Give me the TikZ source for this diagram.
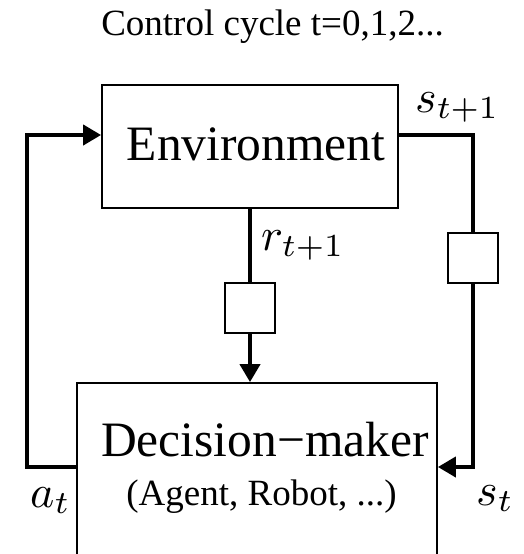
\RequirePackage{fix-cm}
\documentclass[tikz,border=0pt]{standalone}
\usepackage[no-math]{fontspec}
\usepackage{graphicx}
\newfontfamily\tnr{Liberation Serif}
\usetikzlibrary{arrows.meta}
\newcommand{\bigmath}[1]{\scalebox{4.6}{$#1$}}
\tikzset{
  box/.style={draw, line width=1.8pt, rectangle, inner sep=0pt},
  bigtext/.style={inner sep=0pt, font=\tnr\fontsize{49.5}{55}\selectfont},
  midtext/.style={inner sep=0pt, font=\tnr\fontsize{37}{42}\selectfont},
  mathlbl/.style={inner sep=0pt},
  flow/.style={line width=4pt},
  tip/.style={-{Triangle[length=18pt,width=20pt]}}
}
\begin{document}
\begin{tikzpicture}[x=1pt,y=1pt]
\useasboundingbox (0,0) rectangle (524,-554);
\clip (0,0) rectangle (524,-554);
\fill[white] (0,0) rectangle (524,-554);
% title
\node[midtext, anchor=base] (title) at (272.5,-35) {Control cycle t=0,1,2...};
% boxes
\node[box, minimum width=296pt, minimum height=123pt] (env) at (250,-146.5) {};
\node[bigtext, anchor=base] (envtext) at (256,-160) {Environment};
\node[box, minimum width=360pt, minimum height=217pt] (dm) at (257,-491.5) {};
\node[bigtext, anchor=base] (dmtext) at (265,-456) {Decision−maker};
\node[midtext, anchor=base] (dmsub) at (261.5,-505) {(Agent, Robot, ...)};
\node[box, minimum width=50pt, minimum height=50pt] (d1) at (250,-308) {};
\node[box, minimum width=50pt, minimum height=50pt] (d2) at (473,-258) {};
% corner coordinates
\coordinate (er) at (473,-135);
\coordinate (br) at (473,-467);
\coordinate (bl) at (27,-467);
\coordinate (tl) at (27,-135);
% connectors
\draw[flow] (env.south -| d1.north) -- (d1.north);
\draw[flow,tip] (d1.south) -- (d1.south |- dm.north);
\draw[flow] (env.east |- er) -- (er) -- (d2.north);
\draw[flow,tip] (d2.south) -- (br) -- (dm.east |- br);
\draw[flow,tip] (dm.west |- bl) -- (bl) -- (tl) -- (env.west |- tl);
% labels
\node[mathlbl, anchor=base west] (lst1) at (415,-112) {\bigmath{s_{t+1}}};
\node[mathlbl, anchor=base west] (lrt1) at (261,-250) {\bigmath{r_{t+1}}};
\node[mathlbl, anchor=base west] (lat) at (30,-507) {\bigmath{a_t}};
\node[mathlbl, anchor=base west] (lst) at (476,-505) {\bigmath{s_t}};
\end{tikzpicture}
\end{document}
